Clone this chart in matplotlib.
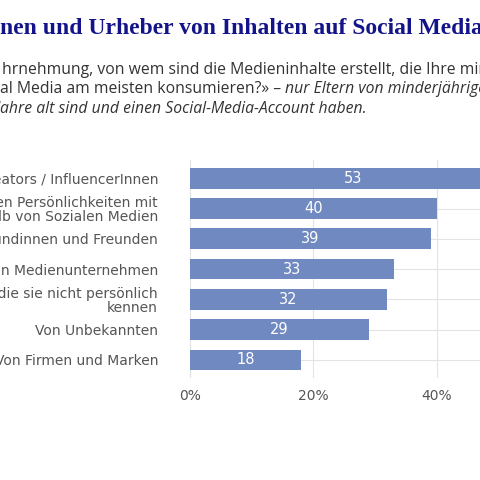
import matplotlib.pyplot as plt

labels = [
    "Von Content Creators / InfluencerInnen",
    "Von öffentlichen Persönlichkeiten mit\nBekanntheit außerhalb von Sozialen Medien",
    "Von Freundinnen und Freunden",
    "Von Medienunternehmen",
    "Von Bekannten, die sie nicht persönlich\nkennen",
    "Von Unbekannten",
    "Von Firmen und Marken",
]
values = [53, 40, 39, 33, 32, 29, 18]
ticks = [0, 20, 40, 60]

fig = plt.figure(figsize=(4.8, 4.8), dpi=100)

# title and subtitle, cut off at the figure edges like the reference
navy = "#14148a"
tit = dict(fontsize=17, family="Liberation Serif", weight="bold", color=navy, va="center")
fig.text(0.0, 0.94, "Urheberin", ha="right", **tit)
fig.text(0.0, 0.94, "nen und Urheber von Inhalten auf Social Media", ha="left", **tit)

sub = dict(fontsize=11.3, family="Open Sans", color="#333333", va="center")
fig.text(0.004, 0.855, "hrnehmung, von wem sind die Medieninhalte erstellt, die Ihre minderjährigen", ha="left", **sub)
fig.text(0.0, 0.855, "«Nach Ihrer Wa", ha="right", **sub)
t2 = fig.text(0.0, 0.814, "al Media am meisten konsumieren?» – ", ha="left", **sub)
fig.text(0.0, 0.814, "Kinder auf Soci", ha="right", **sub)
fig.canvas.draw()
bb = t2.get_window_extent()
fig.text(bb.x1 / fig.bbox.width, 0.814, "nur Eltern von minderjährigen Kindern,", ha="left", style="italic", **sub)
fig.text(0.0, 0.773, "ahre alt sind und einen Social-Media-Account haben.", ha="left", style="italic", **sub)
fig.text(0.0, 0.773, "die mindestens 10 J", ha="right", style="italic", **sub)

ax = fig.add_axes([190 / 480, 0.2125, 370 / 480, 0.454])
y = list(range(len(values)))
ax.barh(y, values, height=0.68, color="#7089c0", zorder=2)
for yi, v in zip(y, values):
    ax.text(v / 2, yi, str(v), ha="center", va="center", color="white", fontsize=10.5, zorder=3)

ax.set_xlim(0, 60)
ax.set_ylim(6.6, -0.6)
ax.set_yticks(y)
ax.set_yticklabels(labels, fontsize=10, color="#555555", linespacing=1.0)
ax.set_xticks(ticks)
ax.set_xticklabels([f"{t}%" for t in ticks], fontsize=10, color="#555555")
ax.grid(color="#e3e3e3", linewidth=0.8, zorder=0)
ax.tick_params(length=0, pad=8)
ax.tick_params(axis="y", pad=23)
for s in ax.spines.values():
    s.set_visible(False)

fig.savefig("out.png", dpi=100)
